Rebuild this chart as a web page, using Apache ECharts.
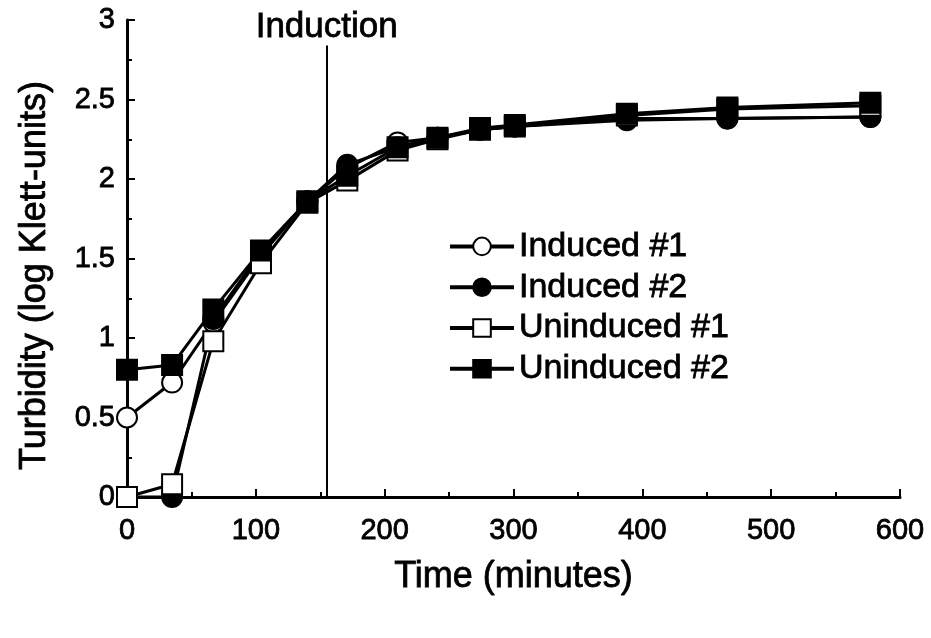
<!DOCTYPE html>
<html>
<head>
<meta charset="utf-8">
<script src="https://cdn.jsdelivr.net/npm/echarts@6/dist/echarts.min.js"></script>
<style>
    html, body { margin: 0; padding: 0; background: #fff; }
    #chart { width: 931px; height: 638px; }
</style>
</head>
<body>
<div id="chart"></div>
<script type="text/javascript">
    // sampling times (minutes)
    var times = [0, 35, 67, 104, 140, 171, 210, 241, 274, 301, 388, 466, 577];
    // turbidity, log Klett-units
    var induced1   = [0.50, 0.72, 1.10, 1.52, 1.86, 2.07, 2.23, 2.26, 2.31, 2.33, 2.37, 2.38, 2.39];
    var induced2   = [0.00, 0.00, 1.12, 1.54, 1.86, 2.09, 2.20, 2.26, 2.31, 2.33, 2.38, 2.38, 2.39];
    var uninduced1 = [0.00, 0.08, 0.98, 1.47, 1.85, 1.99, 2.18, 2.25, 2.31, 2.33, 2.40, 2.44, 2.46];
    var uninduced2 = [0.80, 0.83, 1.18, 1.55, 1.86, 2.02, 2.20, 2.26, 2.32, 2.34, 2.41, 2.45, 2.48];
    var inductionTime = 155;
    var inductionTop = 2.84;

    var font = 'Liberation Sans, Arial, Helvetica, sans-serif';

    // scanned figure: text looks heavier than plain regular
    function txt(size) {
        return { fontFamily: font, fontSize: size, color: '#000', textBorderColor: '#000', textBorderWidth: 0.8 };
    }

    function pairs(ys) {
        return times.map(function (t, i) { return [t, ys[i]]; });
    }

    function makeSeries(name, ys, symbol, filled) {
        return {
            name: name,
            type: 'line',
            data: pairs(ys),
            symbol: symbol,
            symbolSize: 20,
            clip: false,
            lineStyle: { color: '#000', width: 3 },
            itemStyle: { color: filled ? '#000' : '#fff', borderColor: '#000', borderWidth: 2 }
        };
    }

    var myChart = echarts.init(document.getElementById('chart'));
    var series = [
        makeSeries('Induced #1', induced1, 'circle', false),
        makeSeries('Induced #2', induced2, 'circle', true),
        makeSeries('Uninduced #1', uninduced1, 'rect', false),
        makeSeries('Uninduced #2', uninduced2, 'rect', true)
    ];
    var induLabel = txt(35);
    induLabel.show = true;
    induLabel.position = 'end';
    induLabel.formatter = 'Induction';
    induLabel.distance = 1;
    series[0].markLine = {
        silent: true,
        symbol: 'none',
        lineStyle: { color: '#000', width: 2, type: 'solid' },
        label: induLabel,
        data: [[{ coord: [inductionTime, 0] }, { coord: [inductionTime, inductionTop] }]]
    };

    var yName = txt(36);
    yName.padding = [0, 34, 0, 0];
    var xLabel = txt(29);
    xLabel.margin = 19;
    var yLabel = txt(29);
    yLabel.margin = 12;

    var option = {
        animation: false,
        textStyle: { fontFamily: font, color: '#000' },
        grid: { left: 127, right: 31, top: 20, bottom: 141 },
        legend: {
            orient: 'vertical',
            left: 443,
            top: 224,
            itemWidth: 64,
            itemHeight: 22,
            itemGap: 6,
            lineStyle: { color: '#000', width: 4 },
            itemStyle: { borderWidth: 2 },
            textStyle: txt(34),
            data: ['Induced #1', 'Induced #2', 'Uninduced #1', 'Uninduced #2']
        },
        xAxis: {
            type: 'value',
            min: 0,
            max: 600,
            interval: 100,
            name: 'Time (minutes)',
            nameLocation: 'middle',
            nameGap: 62,
            nameTextStyle: txt(36),
            axisLine: { lineStyle: { color: '#000', width: 3 } },
            axisTick: { inside: true, length: 8, lineStyle: { color: '#000', width: 2 } },
            minorTick: { show: true, splitNumber: 2, length: 5, lineStyle: { color: '#000', width: 2 } },
            axisLabel: xLabel,
            splitLine: { show: false }
        },
        yAxis: {
            type: 'value',
            min: 0,
            max: 3,
            interval: 0.5,
            name: 'Turbidity (log Klett-units)',
            nameLocation: 'middle',
            nameGap: 74,
            nameTextStyle: yName,
            axisLine: { show: true, lineStyle: { color: '#000', width: 3 } },
            axisTick: { show: true, inside: true, length: 8, lineStyle: { color: '#000', width: 2 } },
            minorTick: { show: true, splitNumber: 2, length: 5, lineStyle: { color: '#000', width: 2 } },
            axisLabel: yLabel,
            splitLine: { show: false }
        },
        series: series
    };

    myChart.setOption(option);
</script>
</body>
</html>
